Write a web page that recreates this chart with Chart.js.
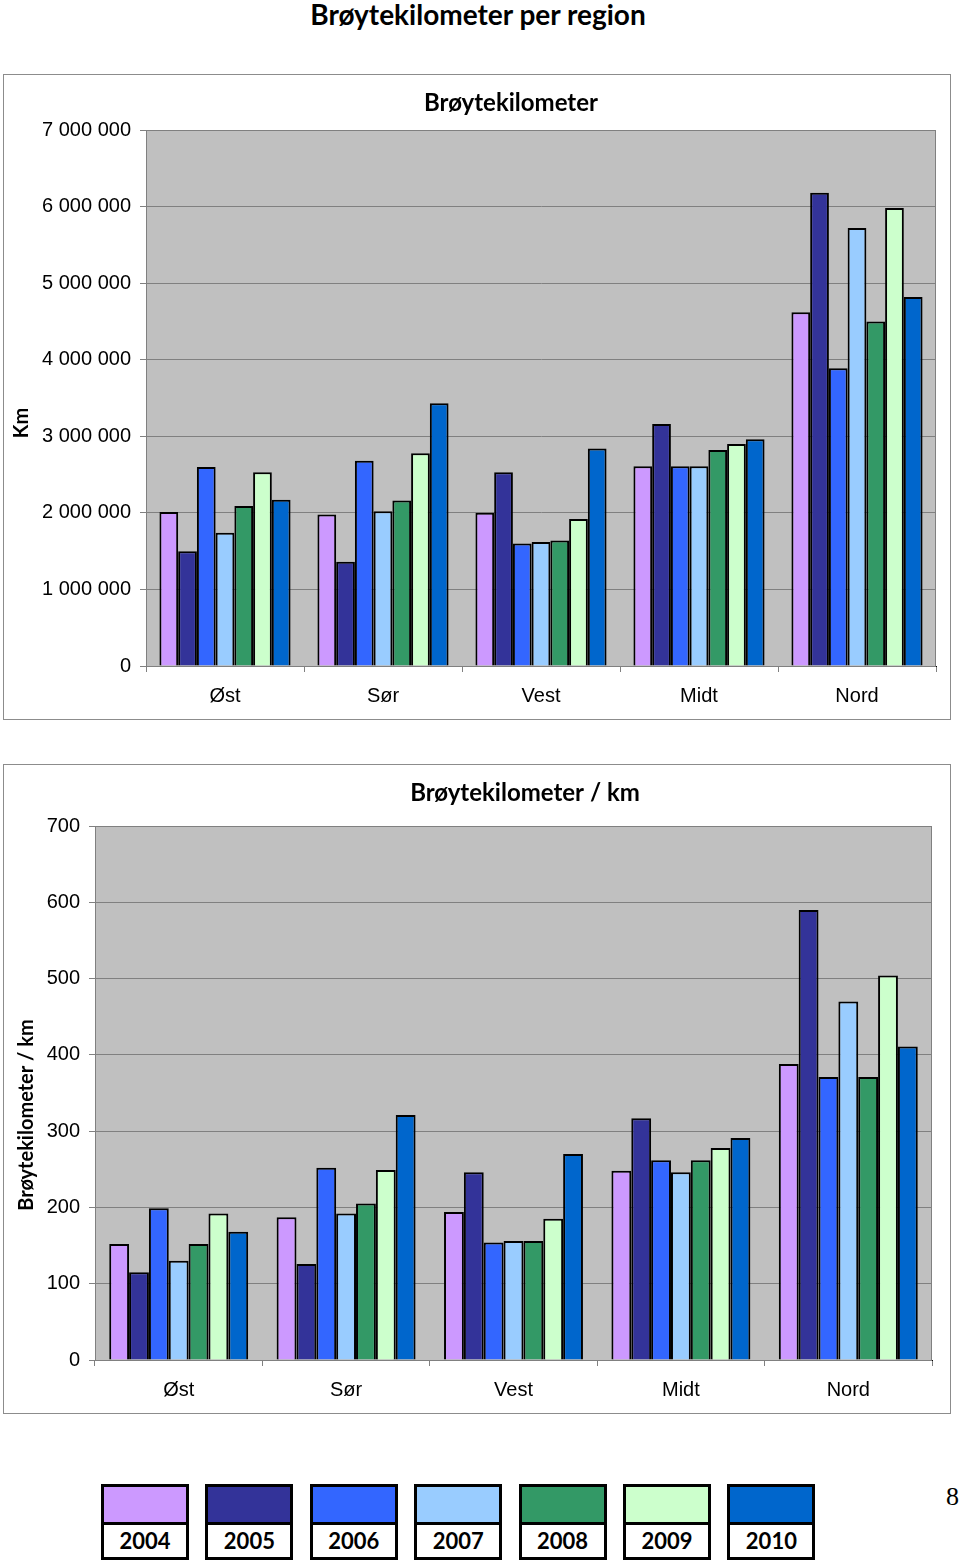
<!DOCTYPE html>
<html>
<head>
    <title>Brøytekilometer per region</title>
    <script src="https://cdn.jsdelivr.net/npm/chart.js"></script>
    <style>
        body { margin: 0; background: #fff; width: 960px; height: 1561px; position: relative; overflow: hidden; }
        .pagetitle { position: absolute; left: 0; width: 956px; top: -3px; text-align: center;
                     font: bold 28px Lato, "Open Sans", sans-serif; color: #000; }
        .box { position: absolute; left: 3px; width: 946px; border: 1px solid #8c8c8c; }
        .box canvas { display: block; }
        .leg { position: absolute; top: 1484px; width: 82px; height: 70px; border: 3px solid #000; background: #fff; }
        .leg .sw { height: 35px; border-bottom: 3px solid #000; }
        .leg .yr { text-align: center; font: bold 22px Lato, "Open Sans", sans-serif; line-height: 32px; }
        .pagenum { position: absolute; left: 946px; top: 1482px; font: 26px "Liberation Serif", "DejaVu Serif", serif; }
    </style>
</head>
<body>
    <div class="pagetitle">Brøytekilometer per region</div>
    <div class="box" style="top:74px;height:644px"><canvas id="kmChart" width="946" height="644"></canvas></div>
    <div class="box" style="top:764px;height:648px"><canvas id="perKmChart" width="946" height="648"></canvas></div>
    <div id="legend"></div>
    <div class="pagenum">8</div>

    <script>
        const regions = ['Øst', 'Sør', 'Vest', 'Midt', 'Nord'];
        const years = ['2004', '2005', '2006', '2007', '2008', '2009', '2010'];
        const colors = ['#CC99FF', '#333399', '#3366FF', '#99CCFF', '#339966', '#CCFFCC', '#0066CC'];

        // Brøytekilometer, one array per year (Øst, Sør, Vest, Midt, Nord)
        const km2004 = [2010000, 1980000, 2000000, 2610000, 4620000];
        const km2005 = [1500000, 1360000, 2530000, 3160000, 6180000];
        const km2006 = [2600000, 2680000, 1600000, 2610000, 3890000];
        const km2007 = [1740000, 2020000, 1620000, 2610000, 5720000];
        const km2008 = [2090000, 2160000, 1640000, 2820000, 4500000];
        const km2009 = [2530000, 2780000, 1920000, 2900000, 5980000];
        const km2010 = [2170000, 3430000, 2840000, 2960000, 4820000];

        // Brøytekilometer / km
        const perKm2004 = [152, 187, 194, 248, 388];
        const perKm2005 = [115, 126, 246, 317, 590];
        const perKm2006 = [199, 252, 154, 262, 371];
        const perKm2007 = [130, 192, 156, 246, 470];
        const perKm2008 = [152, 205, 156, 262, 371];
        const perKm2009 = [192, 249, 185, 278, 504];
        const perKm2010 = [168, 321, 270, 291, 411];

        const kmTicks = [0, 1000000, 2000000, 3000000, 4000000, 5000000, 6000000, 7000000];
        const perKmTicks = [0, 100, 200, 300, 400, 500, 600, 700];

        const kmSeries = [km2004, km2005, km2006, km2007, km2008, km2009, km2010];
        const perKmSeries = [perKm2004, perKm2005, perKm2006, perKm2007, perKm2008, perKm2009, perKm2010];

        const tickFont = { family: 'Arial, "Liberation Sans", sans-serif', size: 20 };
        const boldFont = 'bold 24px Lato, "Open Sans", sans-serif';

        // grey plot area + extra texts at Excel-like positions
        const plotPlugin = {
            id: 'plotDeco',
            beforeDraw(chart, args, opts) {
                const a = chart.chartArea, ctx = chart.ctx;
                ctx.save();
                ctx.fillStyle = '#C0C0C0';
                ctx.fillRect(a.left, a.top, a.right - a.left, a.bottom - a.top);
                ctx.restore();
            },
            afterDraw(chart, args, opts) {
                const a = chart.chartArea, ctx = chart.ctx;
                ctx.save();
                ctx.strokeStyle = '#808080';
                ctx.lineWidth = 1;
                ctx.strokeRect(a.left + 0.5, a.top + 0.5, a.right - a.left - 1, a.bottom - a.top);
                ctx.fillStyle = '#000';
                ctx.font = boldFont;
                ctx.textAlign = 'center';
                ctx.textBaseline = 'middle';
                ctx.fillText(opts.title, opts.titleX, opts.titleY);
                ctx.translate(opts.axisX, opts.axisY);
                ctx.rotate(-Math.PI / 2);
                ctx.font = 'bold 20px Lato, "Open Sans", sans-serif';
                ctx.fillText(opts.axisTitle, 0, 0);
                ctx.restore();
            }
        };

        function makeChart(id, series, ticks, yWidth, pad, deco) {
            return new Chart(document.getElementById(id), {
                type: 'bar',
                data: {
                    labels: regions,
                    datasets: series.map((s, i) => ({
                        label: years[i],
                        data: s,
                        backgroundColor: colors[i],
                        borderColor: '#000',
                        borderWidth: 2,
                        categoryPercentage: 0.83,
                        barPercentage: 1.0
                    }))
                },
                options: {
                    responsive: false,
                    animation: false,
                    layout: { padding: pad },
                    plugins: {
                        legend: { display: false },
                        tooltip: { enabled: false },
                        plotDeco: deco
                    },
                    scales: {
                        x: {
                            grid: { drawOnChartArea: false, drawTicks: true, tickLength: 6, color: '#808080' },
                            border: { color: '#000' },
                            ticks: { font: tickFont, color: '#000', padding: 12 },
                            afterFit: s => { s.height = 40; }
                        },
                        y: {
                            min: ticks[0],
                            max: ticks[ticks.length - 1],
                            afterBuildTicks: s => { s.ticks = ticks.map(v => ({ value: v })); },
                            grid: { color: '#808080', tickLength: 6 },
                            border: { color: '#555' },
                            ticks: {
                                font: tickFont, color: '#000', padding: 9,
                                callback: v => String(v).replace(/\B(?=(\d{3})+(?!\d))/g, ' ')
                            },
                            afterFit: s => { s.width = yWidth; }
                        }
                    }
                },
                plugins: [plotPlugin]
            });
        }

        makeChart('kmChart', kmSeries, kmTicks, 142,
            { left: 0, top: 55, right: 14, bottom: 13 },
            { title: 'Brøytekilometer', titleX: 507, titleY: 28, axisTitle: 'Km', axisX: 18, axisY: 348 });

        makeChart('perKmChart', perKmSeries, perKmTicks, 91,
            { left: 0, top: 61, right: 18, bottom: 13 },
            { title: 'Brøytekilometer / km', titleX: 521, titleY: 28, axisTitle: 'Brøytekilometer / km', axisX: 23, axisY: 350 });

        const legend = document.getElementById('legend');
        years.forEach((y, i) => {
            const d = document.createElement('div');
            d.className = 'leg';
            d.style.left = (101 + i * 104.4) + 'px';
            d.innerHTML = '<div class="sw" style="background:' + colors[i] + '"></div><div class="yr">' + y + '</div>';
            legend.appendChild(d);
        });
    </script>
</body>
</html>
